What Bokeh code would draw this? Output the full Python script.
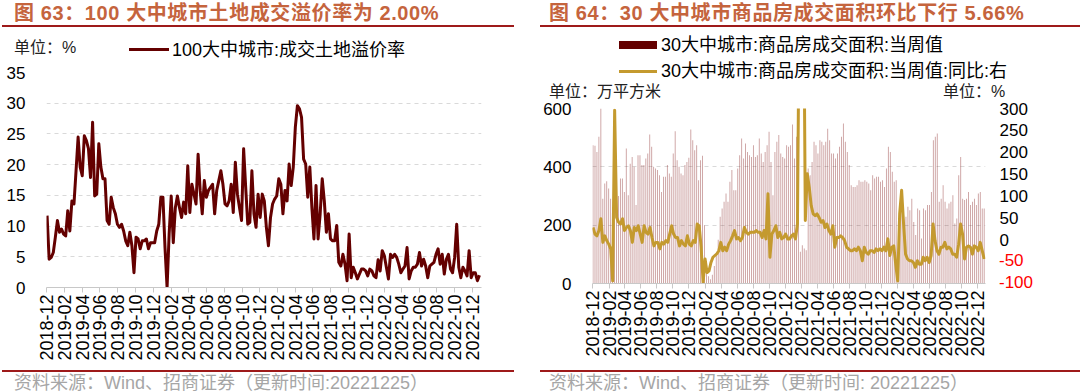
import math
import numpy as np
import pandas as pd
from bokeh.plotting import figure
from bokeh.models import (Range1d, LinearAxis, FixedTicker, DatetimeTickFormatter, MonthsTicker,
                          ColumnDataSource, Div)
from bokeh.layouts import row, column
from bokeh.embed import file_html
from bokeh.resources import INLINE

# ---------------- data ----------------
START = "2018-12-02"
END = "2022-12-25"

land_premium = [11.7, 4.6, 4.9, 5.7, 8.2, 10.9, 9.0, 9.5, 8.7, 8.4, 12.5, 9.2, 14.1, 13.6, 19.0, 24.5, 19.6, 18.2,
                24.7, 23.9, 22.6, 17.9, 26.9, 14.9, 15.2, 23.4, 19.6, 17.7, 17.7, 10.9, 10.3, 14.7, 13.0, 12.0, 10.3,
                9.8, 10.3, 9.2, 7.6, 6.8, 9.0, 6.8, 2.4, 8.2, 7.9, 6.3, 7.6, 7.6, 7.9, 6.3, 7.3, 7.3, 7.3, 9.2, 10.3,
                14.7, 14.7, 6.5, 0.0, 8.7, 14.9, 7.3, 13.0, 14.9, 13.0, 11.4, 13.9, 12.0, 19.8, 12.2, 16.8, 15.2,
                13.6, 21.7, 15.8, 12.0, 17.4, 14.7, 15.8, 16.3, 16.8, 12.0, 15.8, 17.4, 19.0, 16.8, 13.6, 13.3, 14.1,
                16.8, 12.2, 20.4, 15.2, 13.0, 10.9, 22.6, 16.3, 10.3, 10.6, 19.0, 12.0, 9.8, 15.2, 11.4, 15.2, 14.1,
                9.8, 6.8, 11.4, 13.6, 14.4, 14.9, 17.7, 16.8, 12.0, 15.8, 14.1, 20.1, 16.6, 19.6, 26.1, 29.6, 29.1,
                27.7, 20.9, 20.1, 14.7, 19.6, 13.0, 7.9, 16.6, 7.9, 12.0, 17.7, 14.1, 9.0, 12.0, 7.9, 7.6, 7.6, 10.1,
                4.1, 3.5, 5.4, 3.8, 1.1, 8.7, 1.6, 3.3, 2.4, 1.4, 2.2, 3.0, 3.0, 2.7, 1.9, 3.0, 2.7, 1.9, 1.6, 4.5,
                2.7, 6.0, 5.2, 3.3, 1.4, 5.4, 4.9, 5.4, 4.9, 3.8, 2.4, 3.0, 3.5, 6.5, 1.4, 2.7, 3.3, 3.3, 3.8, 5.7,
                3.5, 4.6, 3.5, 1.6, 3.5, 3.8, 4.1, 5.4, 6.3, 3.8, 5.4, 2.2, 4.6, 5.4, 3.0, 2.4, 4.9, 10.3, 3.3, 1.6,
                3.3, 2.7, 1.9, 6.0, 1.6, 2.4, 2.4, 1.1, 2.0]

area_weekly = [474, 472, 451, 503, 600, 291, 343, 351, 326, 291, 30, 250, 280, 300,
               360, 360, 314, 463, 303, 411, 434, 400, 269, 440, 440, 406, 406, 429, 446, 511, 469, 400, 394, 389,
               371, 314, 366, 366, 406, 377, 366, 446, 522, 423, 400, 377, 371, 406, 417, 431, 528, 491, 457, 474,
               354, 423, 438,
               200, 60, 25, 15, 30, 60,
               100, 150, 229, 257, 280, 309, 280, 349, 389, 320, 320, 394, 440, 497, 429, 480,
               451, 440, 434, 474, 434, 440, 497, 446, 417, 451, 474, 520, 417, 303, 451, 486, 509, 446, 434, 429,
               474, 469, 474, 545, 429, 503, 520, 109, 131, 120, 114, 394, 371, 417, 486, 474, 446, 491, 486, 474,
               486, 531, 491, 446, 446, 429, 446, 469, 503, 549, 486, 451, 406, 337, 331, 331, 337, 354, 349, 349,
               354, 349, 343, 320, 371, 360, 366, 366, 349, 354, 331, 394, 469, 451,
               383, 349, 354, 25, 240, 303, 211, 229, 263, 251, 291, 211, 166, 257, 251, 154, 257, 251, 269, 269,
               314, 491, 503, 514, 280, 291, 337, 280, 257, 274, 280, 303, 206, 223, 371, 434, 291, 286, 291, 314,
               269, 280, 291, 269, 309, 314, 257, 257]

area_yoy = [28, 13, 9, 21, 48, -6, 9, -2, -10, -21, -94, 296, 51, 40, 36, 48, 21, 28, 32, 21, -6, 28, 21, 32, 13,
            -6, 32, 17, 13, 28, 5, -14, -6, -6, -21, -6, -10, -2, -6, 13, 32, 13, 5, 5, -14, -2, -10, -14, 9, -10,
            -14, -2, -6, 36, 32, -17, -98, -44, -75, -71, -52, -40, -36, -32, -25, -6, -25, -17, -25, -10, -2, 9,
            21, 2, 5, -2, 5, 28, 17, 13, 17, 17, 17, 21, 17, 17, 5, 21, 2, 105, -40, 13, 21, 32, 5, 17, 2, 5, 13,
            2, 2, 9, 13, 2, 36, 600, 900, 700,
            44, 151, 120, 78, 59, 55, 59, 51, 40, 44, 28, 36, 21, 13, 32, -17, 5, 5, 9, 5, -2, -17, -21, -25, -25,
            -21, -25, -17, -25, -48, -17, -29, -33, -25, -25, -29, -21, -25, -21, -25, -17, -25, 2, -36, -17, -14,
            -56, -94, 59, 113, 36, -33, -44, -48, -48, -52, -63, -48, -56, -56, -40, -48, -40, -52, -36, 36, -2,
            -25, -33, -17, -17, -6, -21, -17, -21, -33, -33, -40, -10, 36, 13, -44, -17, -14, -17, -33, -14, -17,
            -25, -6, -25, -44]

left_yticks = [0, 5, 10, 15, 20, 25, 30, 35]
right_lticks = [0, 200, 400, 600]
right_rticks_black = [0, 50, 100, 150, 200, 250, 300]
right_rticks_red = [-100, -50]
YOY_MIN, YOY_MAX = -100, 300

title_l = "图 63：100 大中城市土地成交溢价率为 2.00%"
title_r = "图 64：30 大中城市商品房成交面积环比下行 5.66%"
legend_l = "100大中城市:成交土地溢价率"
legend_r1 = "30大中城市:商品房成交面积:当周值"
legend_r2 = "30大中城市:商品房成交面积:当周值:同比:右"
unit_l = "单位：%"
unit_r1 = "单位：万平方米"
unit_r2 = "单位：%"
source_l = "资料来源：Wind、招商证券（更新时间:20221225）"
source_r = "资料来源：Wind、招商证券（更新时间: 20221225）"

# ---------------- style helpers ----------------
FONT = "Liberation Sans, Noto Sans CJK SC"
CSS_FONT = "'Liberation Sans','Noto Sans CJK SC',sans-serif"
DARK_RED = "#640000"
GOLD = "#c49a2f"
RULE = "#9e1a1a"
TITLE_C = "#c5643d"
GRID = "#d9d9d9"
AX = "#c8c8c8"
DAY = 86400000.0
TICK_PX = 18


def dates(n):
    s = pd.Timestamp(START).value
    e = pd.Timestamp(END).value
    return pd.to_datetime(np.linspace(s, e, n))


def style_x(p):
    ax = p.xaxis[0]
    ax.ticker = MonthsTicker(months=[1, 3, 5, 7, 9, 11])
    ax.formatter = DatetimeTickFormatter(days="%Y-%m", months="%Y-%m", years="%Y-%m")
    ax.major_label_orientation = math.pi / 2
    ax.major_label_text_font = FONT
    ax.major_label_text_font_size = f"{TICK_PX}px"
    ax.major_label_text_color = "#000000"
    ax.axis_line_color = AX
    ax.major_tick_line_color = AX
    ax.major_tick_out = 5
    ax.major_tick_in = 0
    ax.minor_tick_line_color = None
    ax.major_label_standoff = 2


def style_y(ax, standoff):
    ax.axis_line_color = None
    ax.major_tick_line_color = None
    ax.minor_tick_line_color = None
    ax.major_tick_out = 0
    ax.major_tick_in = 0
    ax.major_label_standoff = standoff
    ax.major_label_text_font = FONT
    ax.major_label_text_font_size = "17px"
    ax.major_label_text_color = "#000000"


def no_align(p):
    try:
        p.frame_align = False
    except Exception:
        pass


def box(left, top, w, h, color):
    return (f'<div style="position:absolute;left:{left}px;top:{top}px;width:{w}px;height:{h}px;'
            f'background:{color};"></div>')


def txt(left, top, s, size, color="#000000", bold=False, lh=None, ls=0):
    lh = lh or int(size * 1.2)
    fw = "bold" if bold else "normal"
    return (f'<div style="position:absolute;left:{left}px;top:{top}px;font-size:{size}px;line-height:{lh}px;'
            f'font-weight:{fw};color:{color};white-space:nowrap;letter-spacing:{ls}px;">{s}</div>')


def panel_div(width, height, parts):
    html = (f'<div style="position:relative;width:{width}px;height:{height}px;overflow:visible;'
            f'font-family:{CSS_FONT};">' + "".join(parts) + '</div>')
    return Div(text=html, width=width, height=height, margin=0, styles={"overflow": "visible", "z-index": "5"})


# ---------------- left panel ----------------
xl = dates(len(land_premium))
p1 = figure(width=540, height=304, x_axis_type="datetime", output_backend="svg", toolbar_location=None,
            min_border_left=46, min_border_right=59, min_border_top=10, min_border_bottom=79,
            x_range=Range1d(xl[0] - pd.Timedelta(days=2), xl[-1] + pd.Timedelta(days=7)),
            y_range=Range1d(0, 35), margin=0)
no_align(p1)
p1.outline_line_color = None
p1.xgrid.grid_line_color = None
p1.ygrid.grid_line_color = GRID
p1.ygrid.grid_line_dash = "4 4"
p1.yaxis.ticker = FixedTicker(ticks=left_yticks)
style_y(p1.yaxis[0], 21)
style_x(p1)

src_l = ColumnDataSource(dict(x=xl, y=land_premium))
p1.line("x", "y", source=src_l, line_width=3, color=DARK_RED, line_join="round")

top_l = panel_div(540, 62, [
    txt(14, 1, title_l, 20, TITLE_C, bold=True, lh=24, ls=0.6),
    box(2, 25, 512, 2, RULE),
    txt(14, 39, unit_l, 16, "#222222", lh=18),
    box(129, 48, 40, 3, DARK_RED),
    txt(172, 40, legend_l, 18, lh=20),
])
bot_l = panel_div(540, 25, [
    box(2, 4, 512, 2, RULE),
    txt(14, 9, source_l, 18, "#a6a6a6", lh=16),
])

# ---------------- right panel ----------------
R_TOP, R_FRAME_H, R_BOTTOM = 10, 175, 83
R_BORDER_L, R_BORDER_R = 46, 95
xb = dates(len(area_weekly))
xy = dates(len(area_yoy))
x2_end = xb[-1] + pd.Timedelta(days=5)
p2 = figure(width=540, height=R_TOP + R_FRAME_H + R_BOTTOM, x_axis_type="datetime", output_backend="svg",
            toolbar_location=None, min_border_left=R_BORDER_L, min_border_right=R_BORDER_R,
            min_border_top=R_TOP, min_border_bottom=R_BOTTOM,
            x_range=Range1d(xb[0] - pd.Timedelta(days=2), x2_end),
            y_range=Range1d(0, 600), margin=0)
no_align(p2)
p2.extra_y_ranges = {"yoy": Range1d(YOY_MIN, YOY_MAX)}
p2.outline_line_color = None
p2.xgrid.grid_line_color = None
p2.ygrid.grid_line_color = GRID
p2.ygrid.grid_line_dash = "4 4"
p2.yaxis.ticker = FixedTicker(ticks=right_lticks)
style_y(p2.yaxis[0], 21)
style_x(p2)

RAX_STANDOFF = 14
rax = LinearAxis(y_range_name="yoy", ticker=FixedTicker(ticks=right_rticks_black))
style_y(rax, RAX_STANDOFF)
p2.add_layout(rax, "right")

src_b = ColumnDataSource(dict(x=xb, top=area_weekly))
p2.vbar(x="x", top="top", source=src_b, width=3.2 * DAY, fill_color="#7a0a0a", fill_alpha=0.42,
        line_color=None)
src_y = ColumnDataSource(dict(x=xy, y=area_yoy))
p2.line("x", "y", source=src_y, y_range_name="yoy", line_width=3, color=GOLD, line_join="round")

top_r = panel_div(540, 98, [
    txt(9, 1, title_r, 20, TITLE_C, bold=True, lh=24, ls=0.6),
    box(0, 25, 540, 2, RULE),
    box(79, 41, 38, 8, DARK_RED),
    txt(121, 35, legend_r1, 18, lh=20),
    box(79, 70, 38, 3, GOLD),
    txt(121, 61, legend_r2, 18, lh=20),
    txt(9, 83, unit_r1, 16, "#222222", lh=18),
    txt(403, 83, unit_r2, 16, "#222222", lh=18),
])

# red negative tick labels of the right axis, positioned from the axis range
fig_h = R_TOP + R_FRAME_H + R_BOTTOM
red_parts = []
for v in right_rticks_red:
    sy = R_TOP + (YOY_MAX - v) / (YOY_MAX - YOY_MIN) * R_FRAME_H   # inside the figure
    top_in_div = sy - fig_h - 10
    red_parts.append(txt(540 - R_BORDER_R + RAX_STANDOFF, round(top_in_div), str(v), 17, "#ff0000", lh=20))

bot_r = panel_div(540, 25, red_parts + [
    box(0, 4, 540, 2, RULE),
    txt(9, 9, source_r, 18, "#a6a6a6", lh=16),
])

layout = row(column(top_l, p1, bot_l, spacing=0, margin=0),
             column(top_r, p2, bot_r, spacing=0, margin=0), spacing=0, margin=0)
open("out.html", "w").write(file_html(layout, INLINE))
